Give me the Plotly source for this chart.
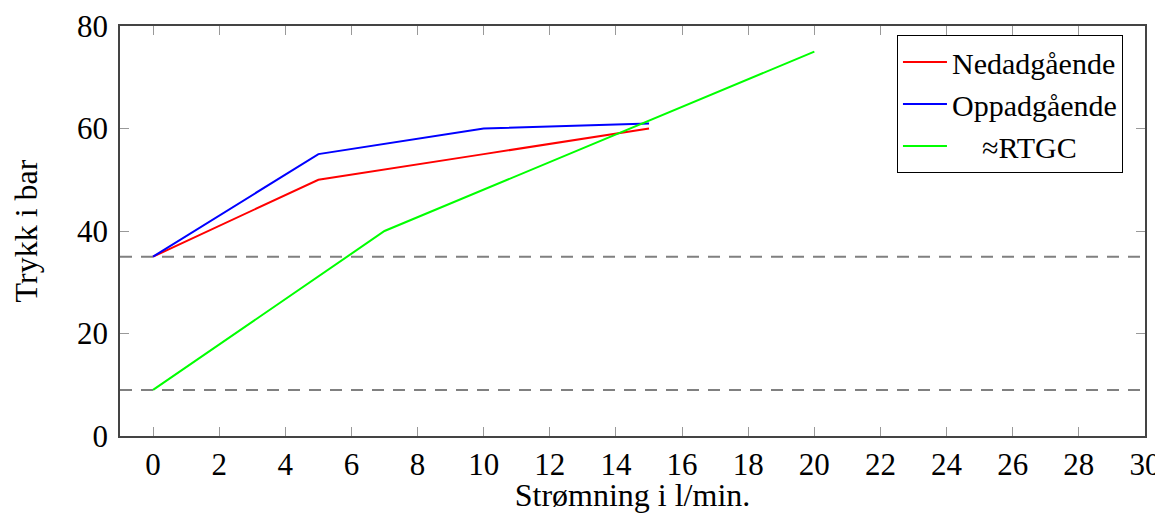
import plotly.graph_objects as go

ned_x = [0, 5, 10, 15]
ned_y = [35, 50, 55, 60]
opp_x = [0, 5, 10, 15]
opp_y = [35, 55, 60, 61]
rtgc_x = [0, 7, 20]
rtgc_y = [9, 40, 75]
ref_levels = [35, 9]
x_ticks = list(range(0, 31, 2))
y_ticks = [0, 20, 40, 60, 80]

FONT = "Liberation Serif"
FS = 31

fig = go.Figure()
fig.add_trace(go.Scatter(x=ned_x, y=ned_y, mode="lines", name="Nedadgående",
                         line=dict(color="#ff0000", width=2)))
fig.add_trace(go.Scatter(x=opp_x, y=opp_y, mode="lines", name="Oppadgående",
                         line=dict(color="#0000ff", width=2)))
fig.add_trace(go.Scatter(x=rtgc_x, y=rtgc_y, mode="lines", name="    ≈RTGC",
                         line=dict(color="#00ff00", width=2)))

for lv in ref_levels:
    fig.add_hline(y=lv, line=dict(color="#808080", width=2, dash="12px,9px"), layer="below")

axis_common = dict(showgrid=False, zeroline=False, showline=True, linecolor="#444444",
                   linewidth=1.5, mirror="ticks", ticks="inside", ticklen=9,
                   tickcolor="#999999", tickwidth=1, automargin=False,
                   ticklabeloverflow="allow",
                   tickfont=dict(family=FONT, size=FS, color="black"))

fig.update_layout(
    width=1155, height=505,
    margin=dict(l=112, r=18, t=18, b=77),
    paper_bgcolor="white", plot_bgcolor="white",
    font=dict(family=FONT, size=FS, color="black"),
    showlegend=True,
    legend=dict(x=0.9785, y=0.978, xanchor="right", yanchor="top",
                bordercolor="black", borderwidth=1, bgcolor="white",
                font=dict(family=FONT, size=30), tracegroupgap=0,
                itemwidth=44),
    xaxis=dict(range=[-1, 30], tickvals=x_ticks,
               title=dict(text="Strømning i l/min.", font=dict(family=FONT, size=32), standoff=13),
               **axis_common),
    yaxis=dict(range=[0, 80], tickvals=y_ticks, ticklabelstandoff=4,
               title=dict(text="Trykk i bar", font=dict(family=FONT, size=32), standoff=40),
               **axis_common),
)

fig.write_html("out.html")
